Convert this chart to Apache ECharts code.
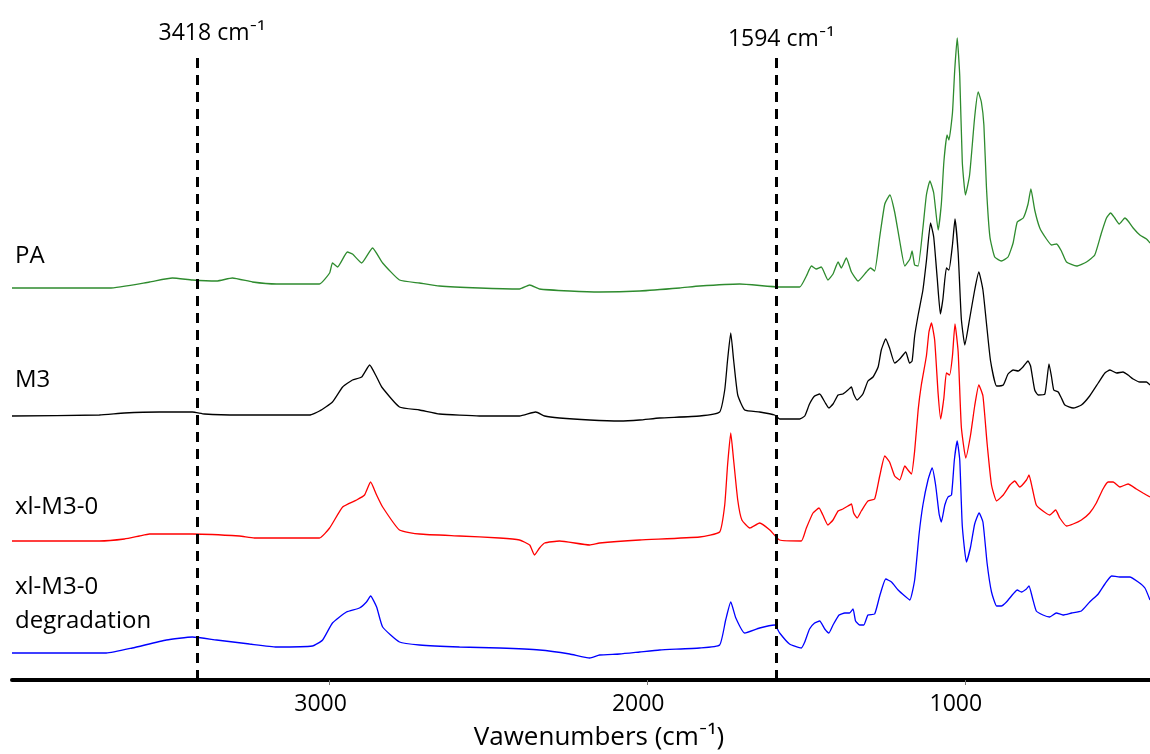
<!DOCTYPE html>
<html>
<head>
<meta charset="utf-8">
<script src="https://cdn.jsdelivr.net/npm/echarts@6/dist/echarts.min.js"></script>
<style>
html, body { margin: 0; padding: 0; background: #fff; }
#chart { width: 1150px; height: 754px; }
</style>
</head>
<body>
<div id="chart"></div>
<script>
// spectra: [wavenumber (cm-1), intensity above own baseline (a.u.)]
const paSpec = [[4000,0],[3693,0],[3567,6],[3495,10],[3432,8],[3356,7],[3306,10],[3243,6],[3167,4],[3032,4],
  [3000,15],[2991,25],[2975,21],[2944,36],[2928,34],[2899,25],[2865,40],[2833,25],[2780,8],[2717,5],
  [2654,2],[2528,0],[2402,-1],[2370,3],[2339,-1],[2244,-3],[2150,-4],[2024,-3],[1898,0],[1835,2],[1709,4],
  [1583,1],[1520,1],[1499,12],[1483,22],[1468,19],[1452,21],[1431,8],[1415,14],[1399,26],[1389,20],
  [1373,30],[1357,16],[1336,7],[1310,16],[1297,20],[1284,17],[1268,51],[1252,84],[1236,93],[1221,76],
  [1205,47],[1189,22],[1173,29],[1166,37],[1158,23],[1147,22],[1132,60],[1121,93],[1110,107],[1098,95],
  [1084,58],[1074,84],[1066,126],[1056,153],[1050,148],[1039,175],[1032,217],[1024,250],[1016,212],[1008,126],
  [998,93],[985,113],[969,171],[958,196],[948,186],[940,163],[932,101],[921,51],[906,31],[885,27],
  [864,31],[848,45],[835,66],[816,70],[801,84],[792,99],[780,78],[764,60],[743,49],[727,43],
  [711,44],[696,37],[680,26],[648,22],[617,26],[591,33],[570,55],[554,70],[541,75],[528,70],
  [514,64],[496,70],[486,67],[470,60],[449,53],[428,49],[417,45]];

const m3Spec = [[4000,0],[3725,1],[3646,3],[3536,4],[3432,4],[3394,2],[3284,1],[3063,1],[3032,5],[2991,14],
  [2959,29],[2928,36],[2899,39],[2874,51],[2852,39],[2836,29],[2780,9],[2717,6],[2654,2],[2528,0],
  [2402,0],[2351,4],[2323,0],[2276,-2],[2181,-4],[2087,-5],[2024,-4],[1961,-2],[1835,0],[1772,4],
  [1756,26],[1747,56],[1737,83],[1728,56],[1715,21],[1693,6],[1646,4],[1599,1],
  [1583,-3],[1520,-3],[1504,0],[1489,12],[1473,20],[1457,22],[1441,14],[1428,8],[1415,12],[1399,21],
  [1384,22],[1368,26],[1357,29],[1350,22],[1339,16],[1321,22],[1305,35],[1289,39],[1273,49],[1263,66],
  [1249,77],[1237,68],[1221,53],[1205,57],[1186,64],[1174,53],[1166,55],[1158,80],[1147,101],[1132,126],
  [1121,155],[1108,193],[1098,179],[1087,138],[1077,102],[1069,117],[1058,148],[1050,146],[1039,171],[1031,197],
  [1021,163],[1011,97],[1000,71],[985,97],[969,126],[956,144],[943,126],[932,93],[919,55],[900,30],
  [879,31],[864,42],[848,46],[832,45],[817,49],[801,55],[793,50],[780,26],[769,21],[748,22],
  [735,52],[727,39],[720,26],[706,24],[696,18],[685,11],[659,8],[633,11],[607,20],[580,33],
  [559,43],[543,46],[522,43],[502,44],[486,41],[470,37],[449,34],[428,34],[417,31]];

const xlSpec = [[4000,0],[3725,0],[3646,2],[3599,5],[3567,7],[3432,7],[3284,5],[3237,3],[3032,3],[3000,13],
  [2959,34],[2915,41],[2890,46],[2871,59],[2852,46],[2833,34],[2780,11],[2717,7],[2591,5],[2465,3],
  [2402,1],[2370,-4],[2355,-14],[2339,-7],[2323,-2],[2276,0],[2181,-4],[2150,-2],[2024,1],[1835,4],
  [1772,9],[1756,36],[1747,76],[1737,108],[1728,81],[1715,41],[1702,21],[1677,13],[1646,18],[1614,11],
  [1583,1],[1515,0],[1499,13],[1478,28],[1459,33],[1447,26],[1431,16],[1415,21],[1399,30],[1384,32],
  [1368,35],[1357,37],[1350,28],[1339,23],[1326,30],[1305,40],[1284,42],[1268,65],[1252,85],[1237,79],
  [1221,65],[1205,61],[1189,75],[1179,71],[1168,67],[1158,90],[1147,131],[1137,156],[1121,185],[1113,209],
  [1105,218],[1095,201],[1084,147],[1076,122],[1066,143],[1058,168],[1048,166],[1039,185],[1031,217],[1021,189],
  [1011,114],[997,83],[982,106],[969,135],[956,156],[943,145],[930,98],[916,56],[900,40],[879,46],
  [858,56],[843,60],[827,54],[806,61],[798,66],[787,52],[775,36],[754,30],[733,26],[714,31],
  [701,23],[680,15],[659,17],[633,21],[607,28],[586,38],[565,52],[549,59],[533,59],[512,54],
  [486,57],[460,52],[439,48],[417,44]];

const xlDegSpec = [[4000,0],[3703,0],[3621,5],[3514,13],[3432,16],[3356,13],[3252,9],[3167,6],[3054,7],[3022,13],
  [2991,30],[2947,41],[2906,45],[2884,51],[2871,57],[2852,46],[2833,26],[2780,11],[2717,8],[2591,6],
  [2465,5],[2339,3],[2244,-1],[2181,-5],[2150,-2],[2087,-1],[2024,1],[1961,3],[1835,5],[1772,8],
  [1753,33],[1737,51],[1721,35],[1693,20],[1646,25],[1599,28],
  [1583,20],[1552,9],[1515,5],[1504,11],[1489,24],[1473,30],[1457,32],[1441,24],[1428,20],[1415,28],
  [1396,38],[1378,40],[1363,40],[1352,44],[1344,32],[1331,28],[1318,28],[1305,38],[1284,39],[1268,57],
  [1249,74],[1231,71],[1210,63],[1189,57],[1173,53],[1158,73],[1144,119],[1132,148],[1116,173],[1103,185],
  [1092,168],[1081,139],[1074,131],[1063,148],[1053,156],[1042,158],[1033,193],[1024,212],[1016,193],[1008,127],
  [995,91],[982,106],[969,129],[955,140],[943,131],[930,90],[916,61],[900,47],[885,47],[869,51],
  [848,59],[835,63],[822,61],[806,64],[798,67],[787,55],[775,42],[754,38],[733,36],[712,40],
  [691,38],[664,40],[633,42],[607,51],[580,59],[559,69],[538,77],[512,76],[481,76],[454,71],
  [433,65],[417,53]];

const spectra = [paSpec, m3Spec, xlSpec, xlDegSpec];
const names = ['PA', 'M3', 'xl-M3-0', 'xl-M3-0 degradation'];
const offsets = [392, 264, 139, 27];      // vertical stacking of the traces
const colors = ['#2e8b2e', '#000000', '#ff0000', '#0000ff'];
const markers = [3418, 1594];
const xTicks = [3000, 2000, 1000];

const FONT = '"Open Sans", Lato, sans-serif';

window.addEventListener('DOMContentLoaded', function () {
    var chart = echarts.init(document.getElementById('chart'));

    var series = spectra.map(function (spec, i) {
        return {
            name: names[i],
            type: 'line',
            showSymbol: false,
            smooth: 0.15,
            lineStyle: { color: colors[i], width: 1.3 },
            data: spec.map(p => [p[0], p[1] + offsets[i]])
        };
    });

    var markLabel = function (v, dist, shift) {
        return { show: true, position: 'end', distance: dist, padding: [0, 0, 0, shift],
            formatter: v + ' cm⁻¹', color: '#000', fontSize: 23, fontFamily: FONT };
    };

    // dashed marker lines with their labels
    series[0].markLine = {
        silent: true,
        symbol: 'none',
        animation: false,
        lineStyle: { color: '#000', width: 3, type: [10, 7] },
        data: [
            [{ coord: [markers[0], 0], label: markLabel(markers[0], 10, 30) }, { coord: [markers[0], 625] }],
            [{ coord: [markers[1], 0], label: markLabel(markers[1], 4, 10) }, { coord: [markers[1], 625] }]
        ]
    };

    var seriesText = function (txt, y) {
        return { type: 'text', x: 15, y: y,
            style: { text: txt, fontSize: 24, fontFamily: FONT, fill: '#000', verticalAlign: 'middle' } };
    };

    var option = {
        animation: false,
        backgroundColor: '#fff',
        grid: { left: 12, right: 0, top: 0, bottom: 74, outerBoundsMode: 'none', containLabel: false },
        xAxis: {
            type: 'value',
            inverse: true,
            min: 417,
            max: 4000,
            splitLine: { show: false },
            axisLine: { lineStyle: { color: '#000', width: 4 } },
            axisTick: { show: true, customValues: xTicks, length: 5, lineStyle: { color: '#777', width: 1 } },
            axisLabel: { customValues: xTicks, fontSize: 23, color: '#000', margin: 13, fontFamily: FONT,
                padding: [0, 18, 0, 0], formatter: v => String(v) },
            name: 'Vawenumbers (cm⁻¹)',
            nameLocation: 'middle',
            nameGap: 45,
            nameTextStyle: { fontSize: 26, color: '#000', fontFamily: FONT, padding: [0, 0, 0, 36] }
        },
        yAxis: {
            type: 'value',
            min: 0,
            max: 680,
            show: false
        },
        graphic: [
            seriesText('PA', 256),
            seriesText('M3', 380),
            seriesText('xl-M3-0', 507),
            seriesText('xl-M3-0', 587),
            seriesText('degradation', 621)
        ],
        series: series
    };

    chart.setOption(option);
}, false);
</script>
</body>
</html>
